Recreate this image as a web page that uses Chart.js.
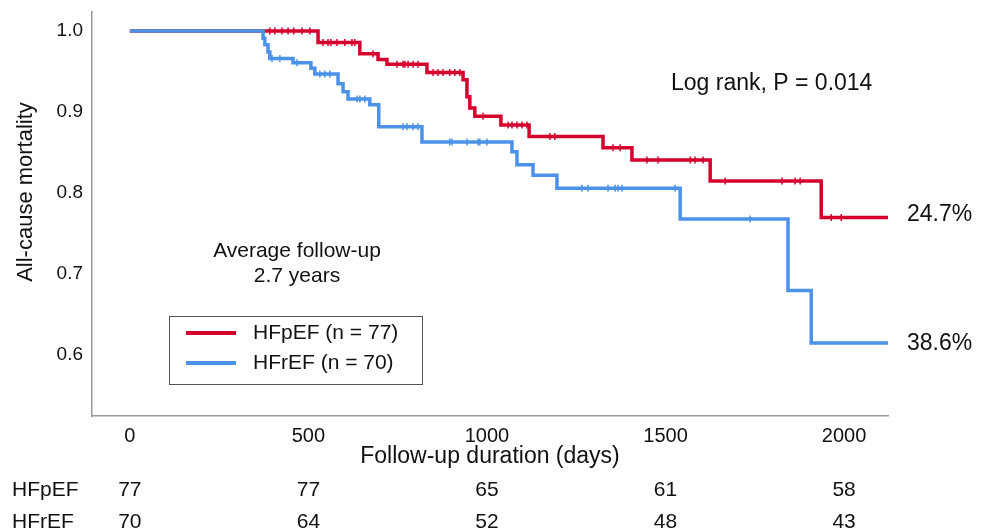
<!DOCTYPE html>
<html>
<head>
<meta charset="utf-8">
<script src="https://cdn.jsdelivr.net/npm/chart.js@4.4.1/dist/chart.umd.min.js"></script>
<style>
  html, body { margin: 0; padding: 0; background: #fff; }
  #wrap { width: 988px; height: 531px; position: relative; }
</style>
</head>
<body>
<div id="wrap"><canvas id="km" width="988" height="531"></canvas></div>
<script>
// Kaplan-Meier steps (day of drop, survival after drop)
const hfpefDays = [0, 527, 644, 695, 720, 832, 933, 944, 952, 966, 1039, 1118, 1325, 1406, 1625, 1936, 2125]
const hfpefSurv = [1.0, 0.986, 0.972, 0.965, 0.959, 0.949, 0.940, 0.919, 0.905, 0.895, 0.884, 0.870, 0.856, 0.841, 0.815, 0.770, 0.770]
const hfpefCensored = [392, 406, 426, 443, 459, 482, 504, 541, 555, 563, 580, 602, 622, 630, 681, 748, 765, 770, 779, 793, 807,
  849, 863, 877, 896, 910, 924, 989, 1059, 1070, 1084, 1098, 1112, 1176, 1190, 1353, 1373,
  1448, 1479, 1569, 1583, 1605, 1667, 1826, 1863, 1877, 1964, 1992]

const hfrefDays = [0, 373, 378, 387, 392, 457, 507, 518, 583, 597, 611, 672, 697, 818, 1070, 1084, 1129, 1196, 1541, 1843, 1908, 2125]
const hfrefSurv = [1.0, 0.991, 0.983, 0.974, 0.966, 0.961, 0.954, 0.947, 0.935, 0.925, 0.916, 0.909, 0.882, 0.863, 0.851, 0.835, 0.822, 0.806, 0.768, 0.680, 0.615, 0.615]
const hfrefCensored = [398, 420, 468, 532, 546, 560, 636, 644, 658, 765, 776, 793, 807, 896, 902, 944, 975, 980, 1000,
  1266, 1283, 1339, 1359, 1367, 1378, 1527, 1737]

const groupNames = ['HFpEF', 'HFrEF']
const groupLabels = ['HFpEF (n = 77)', 'HFrEF (n = 70)']
const endLabels = ['24.7%', '38.6%']
const xTicks = [0, 500, 1000, 1500, 2000]
const yTicks = [0.6, 0.7, 0.8, 0.9, 1.0]
const atRiskHFpEF = [77, 77, 65, 61, 58]
const atRiskHFrEF = [70, 64, 52, 48, 43]

const red = '#d5002c'
const blue = '#4c92e8'
const font = 'Arial, "Liberation Sans", sans-serif'

function toPoints(days, surv) {
  let pts = []
  for (let i = 0; i < days.length; i++) {
    pts.push({ x: days[i], y: surv[i] })
  }
  return pts
}

function survAt(days, surv, t) {
  let s = surv[0]
  for (let i = 0; i < days.length; i++) {
    if (days[i] <= t) s = surv[i]
  }
  return s
}

function censorPoints(cens, days, surv) {
  return cens.map(t => ({ x: t, y: survAt(days, surv, t) }))
}

const extraText = {
  id: 'extraText',
  afterDraw(chart) {
    const ctx = chart.ctx
    const xs = chart.scales.x
    const ys = chart.scales.y
    ctx.save()
    ctx.fillStyle = '#111'
    ctx.textBaseline = 'middle'

    // y axis title
    ctx.save()
    ctx.translate(26, 192)
    ctx.rotate(-Math.PI / 2)
    ctx.textAlign = 'center'
    ctx.font = '22px ' + font
    ctx.fillText('All-cause mortality', 0, 0)
    ctx.restore()

    // x axis title
    ctx.textAlign = 'center'
    ctx.font = '23px ' + font
    ctx.fillText('Follow-up duration (days)', (chart.chartArea.left + chart.chartArea.right) / 2, 457)

    // numbers at risk
    ctx.font = '21px ' + font
    ctx.textAlign = 'left'
    ctx.fillText(groupNames[0], 12, 490)
    ctx.fillText(groupNames[1], 12, 522)
    ctx.textAlign = 'center'
    for (let i = 0; i < xTicks.length; i++) {
      const px = xs.getPixelForValue(xTicks[i])
      ctx.fillText(String(atRiskHFpEF[i]), px, 490)
      ctx.fillText(String(atRiskHFrEF[i]), px, 522)
    }

    // annotations
    ctx.font = '23px ' + font
    ctx.textAlign = 'left'
    ctx.fillText('Log rank, P = 0.014', 671, 84)
    ctx.fillText(endLabels[0], 907, 215)
    ctx.fillText(endLabels[1], 907, 344)

    ctx.font = '21px ' + font
    ctx.textAlign = 'center'
    ctx.fillText('Average follow-up', 297, 251)
    ctx.fillText('2.7 years', 297, 276)

    // legend box
    ctx.strokeStyle = '#555'
    ctx.lineWidth = 1
    ctx.strokeRect(169.5, 316.5, 253, 68)
    const colors = [red, blue]
    ctx.textAlign = 'left'
    for (let i = 0; i < 2; i++) {
      const ly = 333 + i * 30
      ctx.strokeStyle = colors[i]
      ctx.lineWidth = 4
      ctx.beginPath()
      ctx.moveTo(186, ly)
      ctx.lineTo(236, ly)
      ctx.stroke()
      ctx.fillText(groupLabels[i], 253, ly)
    }
    ctx.restore()
  }
}

const ctx = document.getElementById('km').getContext('2d')
const chart = new Chart(ctx, {
  type: 'line',
  data: {
    datasets: [
      {
        label: groupLabels[1],
        data: toPoints(hfrefDays, hfrefSurv),
        borderColor: blue,
        borderWidth: 3.5,
        stepped: 'before',
        pointRadius: 0,
        fill: false
      },
      {
        label: 'HFrEF censored',
        data: censorPoints(hfrefCensored, hfrefDays, hfrefSurv),
        showLine: false,
        pointStyle: 'line',
        rotation: 90,
        pointRadius: 3.5,
        borderColor: blue,
        borderWidth: 1.5
      },
      {
        label: groupLabels[0],
        data: toPoints(hfpefDays, hfpefSurv),
        borderColor: red,
        borderWidth: 3.5,
        stepped: 'before',
        pointRadius: 0,
        fill: false
      },
      {
        label: 'HFpEF censored',
        data: censorPoints(hfpefCensored, hfpefDays, hfpefSurv),
        showLine: false,
        pointStyle: 'line',
        rotation: 90,
        pointRadius: 3.5,
        borderColor: red,
        borderWidth: 1.5
      }
    ]
  },
  options: {
    responsive: false,
    animation: false,
    layout: { padding: { top: 12, right: 100, left: 0, bottom: 0 } },
    plugins: {
      legend: { display: false },
      tooltip: { enabled: false }
    },
    scales: {
      x: {
        type: 'linear',
        min: -106,
        max: 2123,
        afterBuildTicks: (scale) => { scale.ticks = xTicks.map(v => ({ value: v })) },
        afterFit: (scale) => {
          scale.height = 115
          scale.paddingLeft = 0
          scale.paddingRight = 0
        },
        grid: { display: false, drawTicks: false },
        border: { display: true, color: '#999', width: 1.5 },
        ticks: {
          color: '#111',
          font: { size: 20, family: font },
          padding: 8,
          maxRotation: 0,
          callback: (v) => String(v)
        }
      },
      y: {
        type: 'linear',
        min: 0.525,
        max: 1.0235,
        afterBuildTicks: (scale) => { scale.ticks = yTicks.map(v => ({ value: v })) },
        afterFit: (scale) => {
          scale.width = 92
          scale.paddingTop = 0
          scale.paddingBottom = 0
        },
        grid: { display: false, drawTicks: false },
        border: { display: true, color: '#999', width: 1.5 },
        ticks: {
          color: '#111',
          font: { size: 19, family: font },
          padding: 9,
          callback: (v) => Number(v).toFixed(1)
        }
      }
    }
  },
  plugins: [extraText]
})
</script>
</body>
</html>
